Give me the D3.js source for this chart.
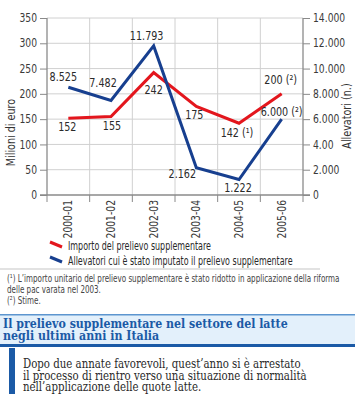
<!DOCTYPE html>
<html><head><meta charset="utf-8">
<script src="https://cdn.jsdelivr.net/npm/d3@7/dist/d3.min.js"></script>
<style>
html,body{margin:0;padding:0;background:#fff;}
svg{display:block;}
.cn{font-family:"DejaVu Sans",sans-serif;}
.sf{font-family:"DejaVu Serif",serif;}
</style></head>
<body>
<script>
const categories = ["2000-01","2001-02","2002-03","2003-04","2004-05","2005-06"];
const importo = [152,155,242,175,142,200];
const allevatori = [8525,7482,11793,2162,1222,6000];
const importoLabels = ["152","155","242","175","142 (¹)","200 (²)"];
const allevatoriLabels = ["8.525","7.482","11.793","2.162","1.222","6.000 (²)"];
const leftTicks = [0,50,100,150,200,250,300,350];
const rightTicks = [0,2000,4000,6000,8000,10000,12000,14000];
const rightTickLabels = ["0","2.000","4.00","6.000","8.000","10.000","12.000","14.000"];
const seriesNames = ["Importo del prelievo supplementare","Allevatori cui è stato imputato il prelievo supplementare"];
const leftTitle = "Milioni di euro";
const rightTitle = "Allevatori (n.)";
const footnotes = ["(¹) L’importo unitario del prelievo supplementare è stato ridotto in applicazione della riforma","delle pac varata nel 2003.","(²) Stime."];
const titleLines = ["Il prelievo supplementare nel settore del latte","negli ultimi anni in Italia"];
const bodyLines = ["Dopo due annate favorevoli, quest’anno si è arrestato","il processo di rientro verso una situazione di normalità","nell’applicazione delle quote latte."];

// layout (label offsets relative to points)
const importoOff = [[-1,13],[1,13],[0,21],[-2,12],[-2,14],[-1,-10]];
const allevOff = [[-5,-6],[-8,-13],[-7,-6],[-14,10],[-1,12],[0,-3]];

const W=355,H=396;
const RED="#e3161d", BLUE="#173f8f", TBLUE="#1b5aa6";
const svg=d3.select("body").append("svg").attr("width",W).attr("height",H);
const L=47,R=303,T=18,B=195;
const x=d3.scaleBand().domain(categories).range([L,R]);
const yL=d3.scaleLinear().domain([0,350]).range([B,T]);
const yR=d3.scaleLinear().domain([0,14000]).range([B,T]);

function condense(sel,ratio){
  sel.each(function(){
    const w=this.getComputedTextLength();
    d3.select(this).attr("textLength",w*ratio).attr("lengthAdjust","spacingAndGlyphs");
  });
}
// horizontally scaled left-anchored text block
function scaledLines(parent,cls,lines,x0,ys,size,fill,targetW,extra){
  const grp=parent.append("g").attr("class",cls);
  const ts=grp.selectAll("text").data(lines).join("text")
    .attr("x",0).attr("y",0).style("font-size",size+"px").attr("fill",fill).text(d=>d);
  if(extra) extra(ts);
  const s=targetW/ts.nodes()[0].getComputedTextLength();
  ts.attr("transform",(d,i)=>`translate(${x0},${ys[i]}) scale(${s},1)`);
  return ts;
}
const CR=0.8;

// grid
const g=svg.append("g");
g.selectAll(".hg").data(leftTicks.slice(1)).join("line")
 .attr("x1",L).attr("x2",R).attr("y1",d=>yL(d)).attr("y2",d=>yL(d))
 .attr("stroke","#d0d0d0").attr("stroke-width",1);
g.selectAll(".vg").data(categories.slice(1)).join("line")
 .attr("x1",d=>x(d)).attr("x2",d=>x(d)).attr("y1",T).attr("y2",B)
 .attr("stroke","#d0d0d0").attr("stroke-width",1);

// axes
const axL=svg.append("g").attr("class","cn").attr("transform",`translate(${L},0)`)
 .call(d3.axisLeft(yL).tickValues(leftTicks).tickSize(7).tickPadding(3));
const axR=svg.append("g").attr("class","cn").attr("transform",`translate(${R},0)`)
 .call(d3.axisRight(yR).tickValues(rightTicks).tickSize(7).tickPadding(3).tickFormat((d,i)=>rightTickLabels[i]));
const xTicks=[...categories.map(c=>x(c)),R];
const axB=svg.append("g").attr("class","cn").attr("transform",`translate(0,${B})`)
 .call(d3.axisBottom(x).tickSize(0).tickPadding(0));
axB.selectAll(".tick line").remove();
axB.selectAll(".tick text").attr("transform","rotate(-90)").attr("text-anchor","end")
 .attr("x",-5).attr("y",0).attr("dy","0.35em");
svg.append("g").selectAll("line").data(xTicks).join("line")
 .attr("x1",d=>d).attr("x2",d=>d).attr("y1",B).attr("y2",B+7).attr("stroke","#8a8a8a");
[axL,axR,axB].forEach(a=>{
  a.selectAll(".domain").attr("stroke","#8a8a8a").attr("stroke-width",1.3);
  a.selectAll(".tick line").attr("stroke","#8a8a8a");
  a.selectAll("text").attr("fill","#3a3a3a").style("font-size","11.5px").attr("font-family",null);
  condense(a.selectAll("text"),CR);
});
axL.select(".domain").attr("d",`M0,${T}V${B}`);
axR.select(".domain").attr("d",`M0,${T}V${B}`);
axB.select(".domain").attr("d",`M${L-7},0H${R+7}`);

// axis titles
const at1=svg.append("text").attr("class","cn").attr("transform",`translate(15,${(T+B)/2+26}) rotate(-90)`)
 .attr("text-anchor","middle").style("font-size","12px").attr("fill","#333").text(leftTitle);
const at2=svg.append("text").attr("class","cn").attr("transform",`translate(351,116) rotate(-90)`)
 .attr("text-anchor","middle").style("font-size","12px").attr("fill","#333").text(rightTitle);
condense(at1,CR);condense(at2,CR);

// lines
const cx=d=>x(d)+x.bandwidth()/2;
const lineL=d3.line().x((d,i)=>cx(categories[i])).y(d=>yL(d));
const lineR=d3.line().x((d,i)=>cx(categories[i])).y(d=>yR(d));
svg.append("path").datum(importo).attr("d",lineL).attr("fill","none").attr("stroke",RED).attr("stroke-width",3).attr("stroke-linejoin","miter");
svg.append("path").datum(allevatori).attr("d",lineR).attr("fill","none").attr("stroke",BLUE).attr("stroke-width",3).attr("stroke-linejoin","miter");

// value labels
const vl1=svg.append("g").attr("class","cn").selectAll("text").data(importo).join("text")
 .attr("x",(d,i)=>cx(categories[i])+importoOff[i][0]).attr("y",(d,i)=>yL(d)+importoOff[i][1])
 .attr("text-anchor","middle").style("font-size","12px").attr("fill","#2a2a2a").text((d,i)=>importoLabels[i]);
const vl2=svg.append("g").attr("class","cn").selectAll("text").data(allevatori).join("text")
 .attr("x",(d,i)=>cx(categories[i])+allevOff[i][0]).attr("y",(d,i)=>yR(d)+allevOff[i][1])
 .attr("text-anchor","middle").style("font-size","12px").attr("fill","#2a2a2a").text((d,i)=>allevatoriLabels[i]);
condense(vl1,CR);condense(vl2,CR);

// legend
const lg=svg.append("g");
[[RED,250],[BLUE,265]].forEach(([c,yy],i)=>{
  lg.append("line").attr("x1",50).attr("y1",yy-8).attr("x2",62).attr("y2",yy-3).attr("stroke",c).attr("stroke-width",3);
});
scaledLines(lg,"cn",[seriesNames[1],seriesNames[0]],68,[265,250],11.5,"#2a2a2a",225);

// separator + footnotes
svg.append("rect").attr("x",0).attr("y",268).attr("width",320).attr("height",2).attr("fill","#e2e2e2");
scaledLines(svg,"cn",footnotes,7,[282,293,304],10,"#444",333);

// title band
svg.append("rect").attr("x",0).attr("y",315).attr("width",W).attr("height",30).attr("fill","#e3f0fb");
svg.append("rect").attr("x",0).attr("y",314).attr("width",W).attr("height",1.5).attr("fill","#5d95cf");
svg.append("rect").attr("x",0).attr("y",344).attr("width",W).attr("height",3).attr("fill",TBLUE);
scaledLines(svg,"sf",titleLines,3,[328,339.5],13.5,TBLUE,285,ts=>ts.style("font-weight","bold"));

// body
svg.append("rect").attr("x",9).attr("y",348).attr("width",6).attr("height",46).attr("fill",TBLUE);
scaledLines(svg,"sf",bodyLines,23,[368,379.5,391],12,"#2a2a2a",278);
</script>
</body></html>
